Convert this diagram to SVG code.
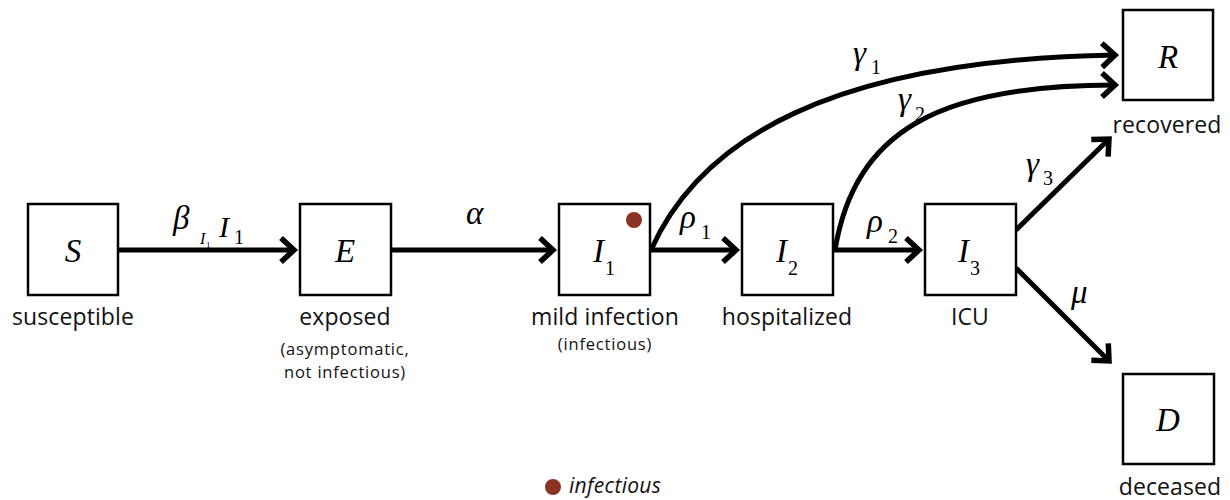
<svg xmlns="http://www.w3.org/2000/svg" width="1230" height="500" viewBox="0 0 1230 500">
<defs>
<style>
.box{fill:#fff;stroke:#000;stroke-width:2.5}
.lbl{font-family:"Open Sans","Lato",sans-serif;font-size:23px;letter-spacing:0.1px;fill:#111;text-anchor:middle}
.sub{font-family:"Open Sans","Lato",sans-serif;font-size:16.5px;letter-spacing:0.8px;fill:#111;text-anchor:middle}
.m{font-family:"Liberation Serif","Times New Roman",serif;font-style:italic;font-size:33px;fill:#000}
.ms{font-family:"Liberation Serif","Times New Roman",serif;font-size:20px;fill:#000}
.conn{fill:none;stroke:#000;stroke-width:5}
.dot{fill:#8b3322}
</style>
<marker id="ah" markerUnits="userSpaceOnUse" markerWidth="40" markerHeight="40" viewBox="-20 -20 40 40" refX="0" refY="0" orient="auto">
<path d="M-13,-12 L0,0 L-13,12" fill="none" stroke="#000" stroke-width="5.5"/>
</marker>
</defs>

<g id="connectors">
<path class="conn" d="M118,250 L294,250" marker-end="url(#ah)"/>
<path class="conn" d="M391,250 L553,250" marker-end="url(#ah)"/>
<path class="conn" d="M650,250 L736,250" marker-end="url(#ah)"/>
<path class="conn" d="M833,250 L919,250" marker-end="url(#ah)"/>
<path class="conn" d="M651,250 C700,140 830,60 1115,55" marker-end="url(#ah)"/>
<path class="conn" d="M835,250 C855,130 940,85 1115,85" marker-end="url(#ah)"/>
<path class="conn" d="M1016,230 L1109,139" marker-end="url(#ah)"/>
<path class="conn" d="M1016,268 L1109,361" marker-end="url(#ah)"/>
<text class="m" x="173" y="229">β</text>
<text class="m" x="200" y="244" style="font-size:16px">I</text>
<text class="ms" x="206" y="248" style="font-size:9px">1</text>
<text class="m" x="219" y="237" style="font-size:30px">I</text>
<text class="ms" x="234" y="244">1</text>
<text class="m" x="466" y="224">α</text>
<text class="m" x="680" y="228">ρ</text>
<text class="ms" x="701" y="239">1</text>
<text class="m" x="867" y="232">ρ</text>
<text class="ms" x="888" y="243">2</text>
<text class="m" x="853" y="64">γ</text>
<text class="ms" x="871" y="74">1</text>
<text class="m" x="898" y="110">γ</text>
<text class="ms" x="915" y="121">2</text>
<text class="m" x="1026" y="175">γ</text>
<text class="ms" x="1043" y="185">3</text>
<text class="m" x="1071" y="303">μ</text>
</g>

<g id="S">
<rect class="box" x="28" y="204" width="90" height="91"/>
<text class="m" x="73" y="262" text-anchor="middle">S</text>
<text class="lbl" x="73" y="325">susceptible</text>
</g>
<g id="E">
<rect class="box" x="300" y="204" width="91" height="91"/>
<text class="m" x="345" y="262" text-anchor="middle">E</text>
<text class="lbl" x="345" y="325">exposed</text>
<text class="sub" x="345" y="355">(asymptomatic,</text>
<text class="sub" x="345" y="378">not infectious)</text>
</g>
<g id="I1">
<rect class="box" x="559" y="204" width="91" height="91"/>
<circle class="dot" cx="634" cy="220" r="8"/>
<text class="m" x="593" y="262">I</text>
<text class="ms" x="605" y="275">1</text>
<text class="lbl" x="605" y="325">mild infection</text>
<text class="sub" x="605" y="350">(infectious)</text>
</g>
<g id="I2">
<rect class="box" x="742" y="204" width="91" height="91"/>
<text class="m" x="776" y="262">I</text>
<text class="ms" x="788" y="275">2</text>
<text class="lbl" x="787" y="325">hospitalized</text>
</g>
<g id="I3">
<rect class="box" x="925" y="204" width="91" height="91"/>
<text class="m" x="958" y="262">I</text>
<text class="ms" x="970" y="275">3</text>
<text class="lbl" x="970" y="325">ICU</text>
</g>
<g id="R">
<rect class="box" x="1123" y="10" width="90" height="90"/>
<text class="m" x="1168" y="68" text-anchor="middle">R</text>
<text class="lbl" x="1167" y="133">recovered</text>
</g>
<g id="D">
<rect class="box" x="1123" y="374" width="91" height="90"/>
<text class="m" x="1168" y="431" text-anchor="middle">D</text>
<text class="lbl" x="1170" y="495">deceased</text>
</g>
<g id="legend">
<circle class="dot" cx="553" cy="487" r="8"/>
<text x="569" y="493" style="font-family:'Open Sans','Lato',sans-serif;font-style:italic;font-size:21px;letter-spacing:0.3px;fill:#111">infectious</text>
</g>
</svg>
